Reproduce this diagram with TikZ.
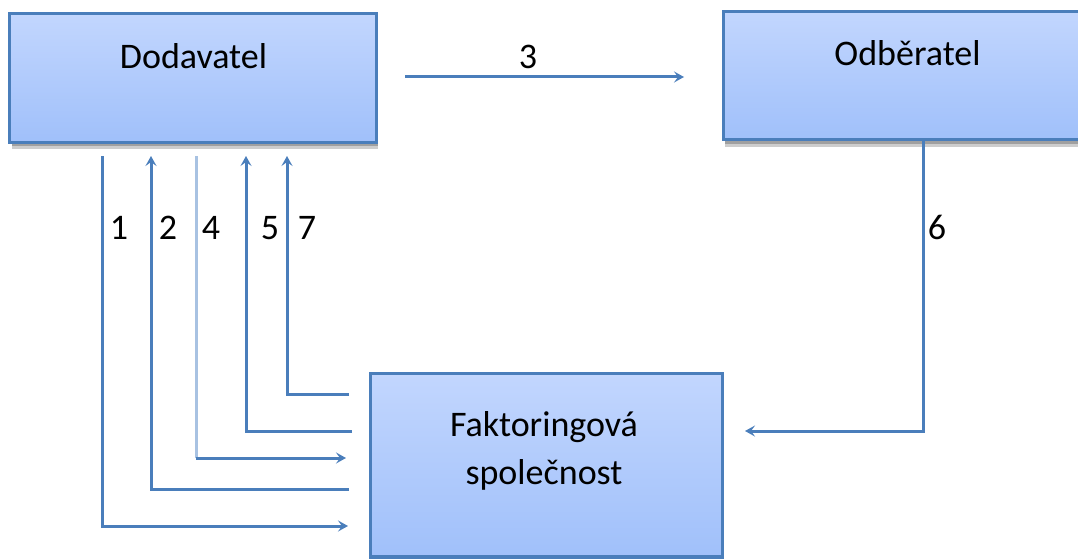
\documentclass[tikz,border=0pt]{standalone}
\usepackage{fontspec}
\setmainfont{Carlito}
\usetikzlibrary{arrows.meta,calc}
\definecolor{edgeblue}{RGB}{74,126,187}
\definecolor{topc}{RGB}{194,214,254}
\definecolor{botc}{RGB}{160,192,250}
\definecolor{faintblue}{RGB}{168,194,226}
\definecolor{shadA}{RGB}{160,160,160}
\definecolor{shadB}{RGB}{205,205,205}
\begin{document}
\begin{tikzpicture}[x=1pt,y=-1pt,
  box/.style={draw=edgeblue,line width=3.2pt,top color=topc,bottom color=botc,inner sep=0pt},
  conn/.style={draw=edgeblue,line width=3pt},
  arr/.style={conn,-{Stealth[length=10pt,width=11pt,inset=4pt]}},
  txt/.style={font=\fontsize{36}{48}\selectfont,inner sep=0pt,anchor=base},
  lbl/.style={font=\fontsize{36}{40}\selectfont,inner sep=0pt,anchor=base}]
\useasboundingbox (0,0) rectangle (1078,559);
% shadows
\fill[shadB] (12,143) rectangle (378,149);
\fill[shadA] (12,143) rectangle (378,146);
\fill[shadB] (725,140) rectangle (1078,147);
\fill[shadA] (725,140) rectangle (1078,143.5);
% boxes
\node[box,minimum width=367pt,minimum height=129pt] (dod) at (193,78) {};
\node[box,minimum width=367pt,minimum height=128pt] (odb) at (907,75.5) {};
\node[box,minimum width=352pt,minimum height=183.5pt] (fak) at (546.5,465.25) {};
\node[txt] (tdod) at (193.5,69) {Dodavatel};
\node[txt] (todb) at (907.5,66) {Odběratel};
\node[txt,align=center] (tfak) at (544,484) {Faktoringová\\společnost};
% coordinates
\coordinate (s3) at (405,77);
\coordinate (e3) at (684,77);
\coordinate (t1) at (102,156);
\coordinate (b1) at (102,526);
\coordinate (e1) at (348,526);
\coordinate (t2) at (151,156);
\coordinate (b2) at (151,489);
\coordinate (e2) at (349,489);
\coordinate (t4) at (196,156);
\coordinate (b4) at (196,458);
\coordinate (e4) at (346,458);
\coordinate (t5) at (246,156);
\coordinate (b5) at (246,431);
\coordinate (e5) at (352,431);
\coordinate (t7) at (287,156);
\coordinate (b7) at (287,394);
\coordinate (e7) at (349,394);
\coordinate (t6) at (923,141);
\coordinate (b6) at (923,431);
\coordinate (e6) at (745,431);
% connectors
\draw[arr] (s3) -- (e3);
\draw[arr] (t1) -- (b1) -- (e1);
\draw[arr] (e2) -- (b2) -- (t2);
\draw[conn,draw=faintblue] (t4) -- (b4);
\draw[arr] (b4) -- (e4);
\draw[arr] (e5) -- (b5) -- (t5);
\draw[arr] (e7) -- (b7) -- (t7);
\draw[arr] (t6) -- (b6) -- (e6);
% labels
\node[lbl] (l3) at (528,69) {3};
\node[lbl] (l1) at (119,239) {1};
\node[lbl] (l2) at (168,239) {2};
\node[lbl] (l4) at (211,239) {4};
\node[lbl] (l5) at (270,239) {5};
\node[lbl] (l7) at (307,239) {7};
\node[lbl] (l6) at (937,239) {6};
\end{tikzpicture}
\end{document}
